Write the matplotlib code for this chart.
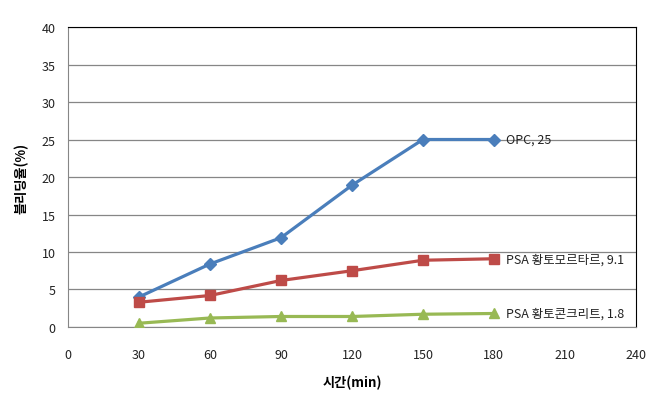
import matplotlib
matplotlib.use('Agg')
import matplotlib.pyplot as plt

plt.rcParams['font.family'] = ['Noto Sans CJK KR', 'DejaVu Sans']

minutes = [30, 60, 90, 120, 150, 180]
opc = [4.0, 8.4, 11.9, 18.9, 25.0, 25.0]
mortar = [3.3, 4.2, 6.2, 7.5, 8.9, 9.1]
concrete = [0.5, 1.2, 1.4, 1.4, 1.7, 1.8]
names = ['OPC', 'PSA 황토모르타르', 'PSA 황토콘크리트']
xticks = [0, 30, 60, 90, 120, 150, 180, 210, 240]
yticks = [0, 5, 10, 15, 20, 25, 30, 35, 40]

fig = plt.figure(figsize=(6.61, 4.02), dpi=100)
ax = fig.add_axes([0.1029, 0.1841, 0.8591, 0.7462])

series = [(opc, '#4a7ebb', 'D', 6), (mortar, '#be4b48', 's', 7), (concrete, '#98b954', '^', 7)]
for (vals, col, mk, ms), nm in zip(series, names):
    ax.plot(minutes, vals, color=col, lw=2.3, marker=mk, markersize=ms, zorder=3)
    ax.annotate(f'{nm}, {vals[-1]:g}', (minutes[-1], vals[-1]), xytext=(9, 0),
                textcoords='offset points', va='center', ha='left', fontsize=9, color='#222222')

ax.set_xlim(0, 240)
ax.set_ylim(0, 40)
ax.set_xticks(xticks)
ax.set_yticks(yticks)
ax.tick_params(length=0, labelsize=9, colors='#222222')
ax.tick_params(axis='x', pad=15)
ax.tick_params(axis='y', pad=9)
ax.yaxis.grid(True, color='#868686', lw=0.9)
ax.set_axisbelow(True)
for s in ['left', 'bottom']:
    ax.spines[s].set_color('#868686')
for s in ['top', 'right']:
    ax.spines[s].set_color('black')

ax.set_xlabel('시간(min)', fontsize=9.5, fontweight='bold', labelpad=10)
ax.set_ylabel('블리딩율(%)', fontsize=9.5, fontweight='bold', labelpad=9)

fig.savefig('out.png', dpi=100)
